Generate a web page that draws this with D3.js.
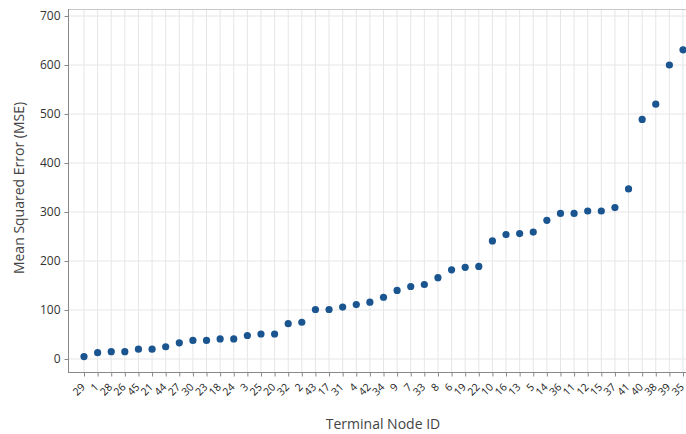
<!DOCTYPE html>
<html><head><meta charset="utf-8">
<script src="https://cdn.jsdelivr.net/npm/d3@7"></script>
<style>body{margin:0;background:#fff;}svg{display:block;font-family:"Open Sans",sans-serif;}</style>
</head><body><svg id="c" width="686" height="434"></svg>
<script>
const nodeIds = ["29","1","28","26","45","21","44","27","30","23","18","24","3","25","20","32","2","43","17","31","4","42","34","9","7","33","8","6","19","22","10","16","13","5","14","36","11","12","15","37","41","40","38","39","35"];
const mseValues = [5,13,15,15,20,20,25,33,38,38,41,41,48,51,51,72,75,101,101,106,111,116,126,140,148,152,166,182,187,189,241,254,256,259,283,297,297,302,302,309,347,489,520,600,631];
const yTicks = [0,100,200,300,400,500,600,700];

const svg = d3.select("#c");
const L=68, R=686, T=9, B=372;
const x = d3.scalePoint().domain(nodeIds).range([84,683]);
const y = d3.scaleLinear().domain([0,700]).range([359,16]);

// grid
svg.append("g").selectAll("line").data(nodeIds).join("line")
  .attr("x1",d=>x(d)).attr("x2",d=>x(d)).attr("y1",T).attr("y2",B)
  .attr("stroke","#e6e6e6").attr("stroke-width",1);
svg.append("g").selectAll("line").data(yTicks).join("line")
  .attr("x1",L).attr("x2",R).attr("y1",d=>y(d)).attr("y2",d=>y(d))
  .attr("stroke","#e6e6e6").attr("stroke-width",1);

// frame
svg.append("line").attr("x1",L).attr("x2",R).attr("y1",T+0.5).attr("y2",T+0.5).attr("stroke","#c8c8c8");

// axes
const yAx = svg.append("g").attr("transform",`translate(${L+0.5},0)`)
  .call(d3.axisLeft(y).tickValues(yTicks).tickSize(4).tickPadding(4));
yAx.select(".domain").attr("d",`M0,${T}V${B}`).attr("stroke","#888");
yAx.selectAll(".tick line").attr("stroke","#888");
yAx.selectAll("text").attr("font-size",12).attr("fill","#333").attr("font-family","Open Sans");

const xAx = svg.append("g").attr("transform",`translate(0,${B+0.5})`)
  .call(d3.axisBottom(x).tickSize(4).tickPadding(3));
xAx.select(".domain").attr("d",`M${L},0H${R}`).attr("stroke","#888");
xAx.selectAll(".tick line").attr("stroke","#888");
xAx.selectAll("text").attr("font-size",10.5).attr("fill","#222").attr("font-family","Open Sans")
  .attr("text-anchor","end").attr("dy","0.3em")
  .attr("transform","translate(-6,8) rotate(-45)");

// points
svg.append("g").selectAll("circle").data(nodeIds).join("circle")
  .attr("cx",d=>x(d)).attr("cy",(d,i)=>y(mseValues[i])).attr("r",3.6)
  .attr("fill","#1a5590");

// titles
svg.append("text").attr("x",383).attr("y",429).attr("text-anchor","middle")
  .attr("font-size",14).attr("fill","#444").text("Terminal Node ID");
svg.append("text").attr("transform","translate(24,188) rotate(-90)").attr("text-anchor","middle")
  .attr("font-size",14).attr("fill","#444").text("Mean Squared Error (MSE)");
</script></body></html>
